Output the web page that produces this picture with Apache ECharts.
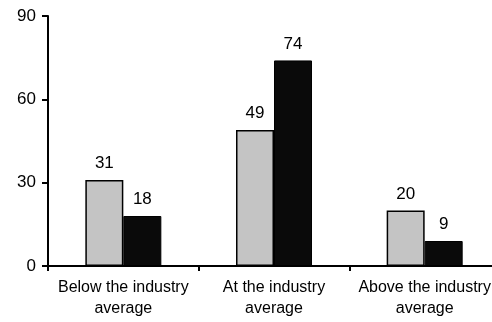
<!DOCTYPE html>
<html><head><meta charset="utf-8">
<script src="https://cdn.jsdelivr.net/npm/echarts@6/dist/echarts.min.js"></script>
<style>html,body{margin:0;padding:0;background:#fff}#c{width:492px;height:322px}</style>
</head><body><div id="c"></div>
<script>
const categories = ['Below the industry\naverage', 'At the industry\naverage', 'Above the industry\naverage'];
const seriesGray = [31, 49, 20];
const seriesBlack = [18, 74, 9];
const yTicks = [0, 30, 60, 90];

const chart = echarts.init(document.getElementById('c'), null, {renderer: 'canvas'});
const font = 'Liberation Sans, Arial, sans-serif';
chart.setOption({
  animation: false,
  backgroundColor: '#fff',
  grid: {left: 48, top: 16, width: 452, height: 250, containLabel: false, outerBoundsMode: 'none'},
  xAxis: {
    type: 'category', data: categories,
    axisLine: {lineStyle: {color: '#000', width: 2}},
    axisTick: {show: true, length: 5, lineStyle: {color: '#000', width: 2}},
    axisLabel: {interval: 0, color: '#000', fontFamily: font, fontSize: 16, lineHeight: 21, margin: 11}
  },
  yAxis: {
    type: 'value', min: yTicks[0], max: yTicks[yTicks.length - 1], interval: 30,
    splitLine: {show: false},
    axisLine: {show: true, lineStyle: {color: '#000', width: 2}},
    axisTick: {show: true, length: 6, lineStyle: {color: '#000', width: 2}},
    axisLabel: {color: '#000', fontFamily: font, fontSize: 17, margin: 12}
  },
  series: [
    {type: 'bar', data: seriesGray, barWidth: 38, barGap: '0%',
     itemStyle: {color: '#c4c4c4', borderColor: '#000', borderWidth: 1.5},
     label: {show: true, position: 'top', distance: 8, color: '#000', fontFamily: font, fontSize: 17}},
    {type: 'bar', data: seriesBlack, barWidth: 38, barGap: '0%',
     itemStyle: {color: '#0a0a0a', borderColor: '#000', borderWidth: 1},
     label: {show: true, position: 'top', distance: 8, color: '#000', fontFamily: font, fontSize: 17}}
  ]
});
</script></body></html>
